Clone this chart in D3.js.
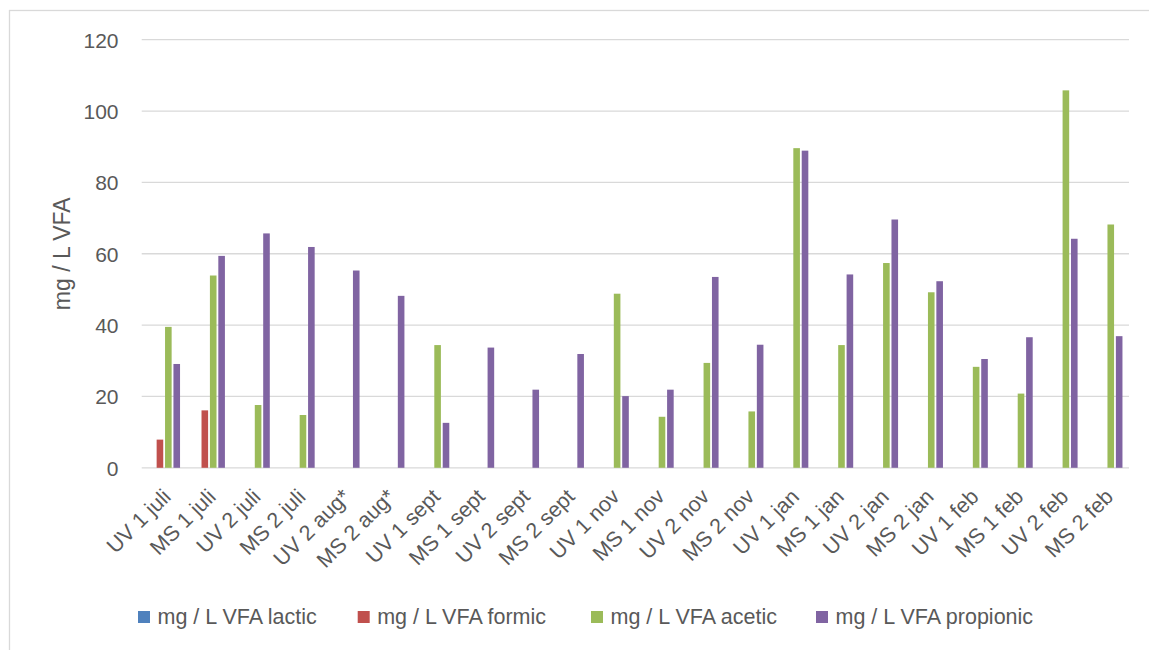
<!DOCTYPE html>
<html>
<head>
<meta charset="utf-8">
<script src="https://cdn.jsdelivr.net/npm/d3@7"></script>
<style>
  html, body { margin: 0; padding: 0; background: #fff; }
  svg { display: block; }
  text { font-family: "Liberation Sans", Arial, sans-serif; fill: #595959; }
</style>
</head>
<body>
<svg id="chart" width="1149" height="650"></svg>
<script>
const categories = ["UV 1 juli","MS 1 juli","UV 2 juli","MS 2 juli","UV 2 aug*","MS 2 aug*","UV 1 sept","MS 1 sept","UV 2 sept","MS 2 sept","UV 1 nov","MS 1 nov","UV 2 nov","MS 2 nov","UV 1 jan","MS 1 jan","UV 2 jan","MS 2 jan","UV 1 feb","MS 1 feb","UV 2 feb","MS 2 feb"];
const seriesNames = ["mg / L VFA lactic","mg / L VFA formic","mg / L VFA acetic","mg / L VFA propionic"];
const seriesColors = ["#4f81bd","#c0504d","#9bbb59","#8064a2"];
const lactic    = [0,0,0,0,0,0,0,0,0,0,0,0,0,0,0,0,0,0,0,0,0,0];
const formic    = [7.9,16.1,0,0,0,0,0,0,0,0,0,0,0,0,0,0,0,0,0,0,0,0];
const acetic    = [39.5,53.9,17.6,14.8,0,0,34.4,0,0,0,48.8,14.3,29.4,15.8,89.6,34.4,57.4,49.2,28.3,20.8,105.8,68.2];
const propionic = [29.1,59.4,65.7,61.9,55.3,48.2,12.6,33.7,21.9,31.9,20.1,21.9,53.5,34.5,88.9,54.2,69.6,52.3,30.5,36.6,64.2,36.9];
const yTicks = [0,20,40,60,80,100,120];
const yTitle = "mg / L VFA";

const seriesData = [lactic, formic, acetic, propionic];

const svg = d3.select("#chart");

// chart border
svg.append("rect").attr("x", 9.5).attr("y", 10.5).attr("width", 1160).attr("height", 660)
  .attr("fill", "none").attr("stroke", "#d9d9d9").attr("stroke-width", 1.3);

const plotL = 141.7, plotR = 1129, plotT = 39.7, plotB = 467.8;

const x = d3.scaleBand().domain(categories).range([plotL, plotR]).padding(0);
const y = d3.scaleLinear().domain([0, 120]).range([plotB, plotT]);
const groupW = 33.6;
const xs = d3.scaleBand().domain(d3.range(seriesNames.length)).range([-groupW/2, groupW/2]).padding(0);
const barW = xs.bandwidth() - 1.8;

// gridlines
svg.append("g").selectAll("line").data(yTicks).join("line")
  .attr("x1", plotL).attr("x2", plotR)
  .attr("y1", d => y(d)).attr("y2", d => y(d))
  .attr("stroke", "#d9d9d9").attr("stroke-width", 1.3);

// y axis labels
const yAxis = d3.axisLeft(y).tickValues(yTicks).tickSize(0).tickPadding(0);
const ya = svg.append("g").attr("transform", `translate(118.5,0)`).call(yAxis);
ya.select(".domain").remove();
ya.selectAll("text").attr("font-size", 21).attr("font-family", '"Liberation Sans", Arial, sans-serif')
  .attr("fill", "#595959").attr("dy", "0.35em");

// y title
svg.append("text")
  .attr("transform", `translate(70,${(plotT + plotB) / 2}) rotate(-90)`)
  .attr("text-anchor", "middle")
  .attr("font-size", 23)
  .text(yTitle);

// bars
seriesData.forEach((vals, si) => {
  svg.append("g").selectAll("rect").data(vals.map((v, i) => ({v, c: categories[i]}))).join("rect")
    .filter(d => d.v > 0)
    .attr("x", d => x(d.c) + x.bandwidth()/2 + xs(si) + (xs.bandwidth() - barW)/2)
    .attr("width", barW)
    .attr("y", d => y(d.v))
    .attr("height", d => y(0) - y(d.v))
    .attr("fill", seriesColors[si]);
});

// x labels
svg.append("g").selectAll("text").data(categories).join("text")
  .attr("transform", d => `translate(${x(d) + x.bandwidth()/2 + 8},${498}) rotate(-45)`)
  .attr("text-anchor", "end")
  .attr("font-size", 21.5)
  .text(d => d);

// legend
const legX = [138, 357.7, 591, 816];
const leg = svg.append("g");
seriesNames.forEach((n, i) => {
  leg.append("rect").attr("x", legX[i]).attr("y", 611).attr("width", 12).attr("height", 12)
    .attr("fill", seriesColors[i]);
  leg.append("text").attr("x", legX[i] + 19.5).attr("y", 624).attr("font-size", 21.5).text(n);
});
</script>
</body>
</html>
